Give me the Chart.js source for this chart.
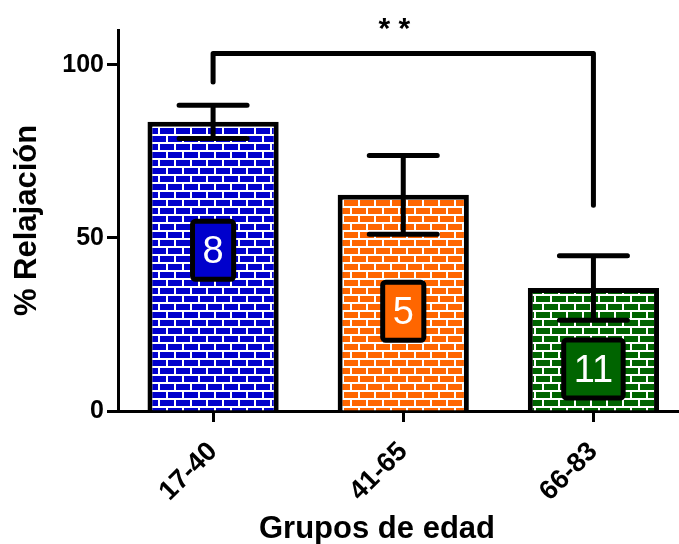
<!DOCTYPE html>
<html>
<head>
<meta charset="utf-8">
<script src="https://cdn.jsdelivr.net/npm/chart.js@4.4.1/dist/chart.umd.min.js"></script>
<style>
  html, body { margin: 0; padding: 0; background: #fff; }
  #wrap { width: 679px; height: 544px; }
</style>
</head>
<body>
<div id="wrap"><canvas id="chart" width="679" height="544"></canvas></div>
<script>
// values
const categories = ["17-40", "41-65", "66-83"];
const means = [83.5, 62.4, 35.5];
const sem = [4.8, 11.4, 9.3];
const nLabels = ["8", "5", "11"];
const nLabelLevel = [46.4, 28.8, 12.1];
const yTicks = [0, 50, 100];

// significance bracket between first and last group
const bracketFrom = 0;
const bracketTo = 2;
const bracketTop = 103.2;
const bracketLeftEnd = 95;
const bracketRightEnd = 59.4;
const bracketText = "* *";

const barColors = ["#0000cc", "#ff6600", "#006400"];
const FONT = "'Liberation Sans', Arial, sans-serif";

function brickPattern(color) {
  const c = document.createElement("canvas");
  c.width = 16;
  c.height = 16;
  const g = c.getContext("2d");
  g.fillStyle = "#ffffff";
  g.fillRect(0, 0, 16, 16);
  g.fillStyle = color;
  // row 1
  g.fillRect(0, 0, 14, 6);
  // row 2, offset half a brick
  g.fillRect(0, 8, 6, 6);
  g.fillRect(8, 8, 8, 6);
  return g.createPattern(c, "repeat");
}

const errorBarsAndLabels = {
  id: "errorBarsAndLabels",
  afterDatasetsDraw(chart) {
    const ctx = chart.ctx;
    const y = chart.scales.y;
    const meta = chart.getDatasetMeta(0);
    ctx.save();
    ctx.strokeStyle = "#000";
    ctx.lineCap = "round";
    ctx.lineWidth = 5;
    meta.data.forEach((bar, i) => {
      const top = y.getPixelForValue(means[i] + sem[i]);
      const bot = y.getPixelForValue(means[i] - sem[i]);
      ctx.beginPath();
      ctx.moveTo(bar.x, top);
      ctx.lineTo(bar.x, bot);
      ctx.moveTo(bar.x - 34, top);
      ctx.lineTo(bar.x + 34, top);
      ctx.moveTo(bar.x - 34, bot);
      ctx.lineTo(bar.x + 34, bot);
      ctx.stroke();
    });

    // n boxes
    ctx.font = "38px " + FONT;
    ctx.textAlign = "center";
    ctx.textBaseline = "middle";
    meta.data.forEach((bar, i) => {
      const cy = y.getPixelForValue(nLabelLevel[i]);
      const w = ctx.measureText(nLabels[i]).width + 20;
      const h = 58;
      ctx.beginPath();
      ctx.roundRect(bar.x - w / 2, cy - h / 2, w, h, 3);
      ctx.fillStyle = barColors[i];
      ctx.fill();
      ctx.lineWidth = 5;
      ctx.lineJoin = "round";
      ctx.strokeStyle = "#000";
      ctx.stroke();
      ctx.fillStyle = "#fff";
      ctx.fillText(nLabels[i], bar.x, cy + 2);
    });

    // bracket
    const x1 = meta.data[bracketFrom].x;
    const x2 = meta.data[bracketTo].x;
    const yt = y.getPixelForValue(bracketTop);
    ctx.beginPath();
    ctx.lineWidth = 5;
    ctx.lineJoin = "round";
    ctx.moveTo(x1, y.getPixelForValue(bracketLeftEnd));
    ctx.lineTo(x1, yt);
    ctx.lineTo(x2, yt);
    ctx.lineTo(x2, y.getPixelForValue(bracketRightEnd));
    ctx.stroke();
    ctx.fillStyle = "#000";
    ctx.font = "bold 30px " + FONT;
    ctx.fillText(bracketText, (x1 + x2) / 2 - 9, yt - 24);

    // x axis title, centred a bit left of the plot middle as in the source
    ctx.font = "bold 31px " + FONT;
    ctx.fillText("Grupos de edad", chart.chartArea.left + 259, 529);
    ctx.restore();
  }
};

new Chart(document.getElementById("chart"), {
  type: "bar",
  data: {
    datasets: [{
      data: categories.map((c, i) => ({ x: i + 0.5, y: means[i] })),
      backgroundColor: barColors.map(brickPattern),
      borderColor: "#000",
      borderWidth: 5,
      borderSkipped: "bottom",
      barPercentage: 0.69,
      categoryPercentage: 1
    }]
  },
  options: {
    responsive: false,
    animation: false,
    layout: { padding: { top: 30, right: 0, left: 0, bottom: 0 } },
    plugins: { legend: { display: false }, tooltip: { enabled: false } },
    scales: {
      x: {
        type: "linear",
        min: 0,
        max: 2.95,
        offset: false,
        afterBuildTicks: (axis) => {
          axis.ticks = categories.map((c, i) => ({ value: i + 0.5 }));
        },
        afterFit: (axis) => { axis.height = 133; },
        grid: { offset: false, drawOnChartArea: false, tickLength: 11, tickWidth: 3, color: "#000" },
        border: { display: true, color: "#000", width: 3 },
        ticks: {
          autoSkip: false,
          minRotation: 45,
          maxRotation: 45,
          padding: 14,
          color: "#000",
          font: { family: FONT, size: 27, weight: "bold" },
          callback: (v) => categories[Math.floor(v)]
        },
        title: { display: false }
      },
      y: {
        min: 0,
        max: 110,
        afterBuildTicks: (axis) => {
          axis.ticks = yTicks.map((v) => ({ value: v }));
        },
        afterFit: (axis) => { axis.width = 118; },
        grid: { drawOnChartArea: false, tickLength: 11, tickWidth: 3, color: "#000" },
        border: { display: true, color: "#000", width: 3 },
        ticks: {
          padding: 3,
          color: "#000",
          font: { family: FONT, size: 25, weight: "bold" }
        },
        title: {
          display: true,
          text: "% Relajación",
          color: "#000",
          padding: { top: 9, bottom: 0 },
          font: { family: FONT, size: 31, weight: "bold" }
        }
      }
    }
  },
  plugins: [errorBarsAndLabels]
});
</script>
</body>
</html>
